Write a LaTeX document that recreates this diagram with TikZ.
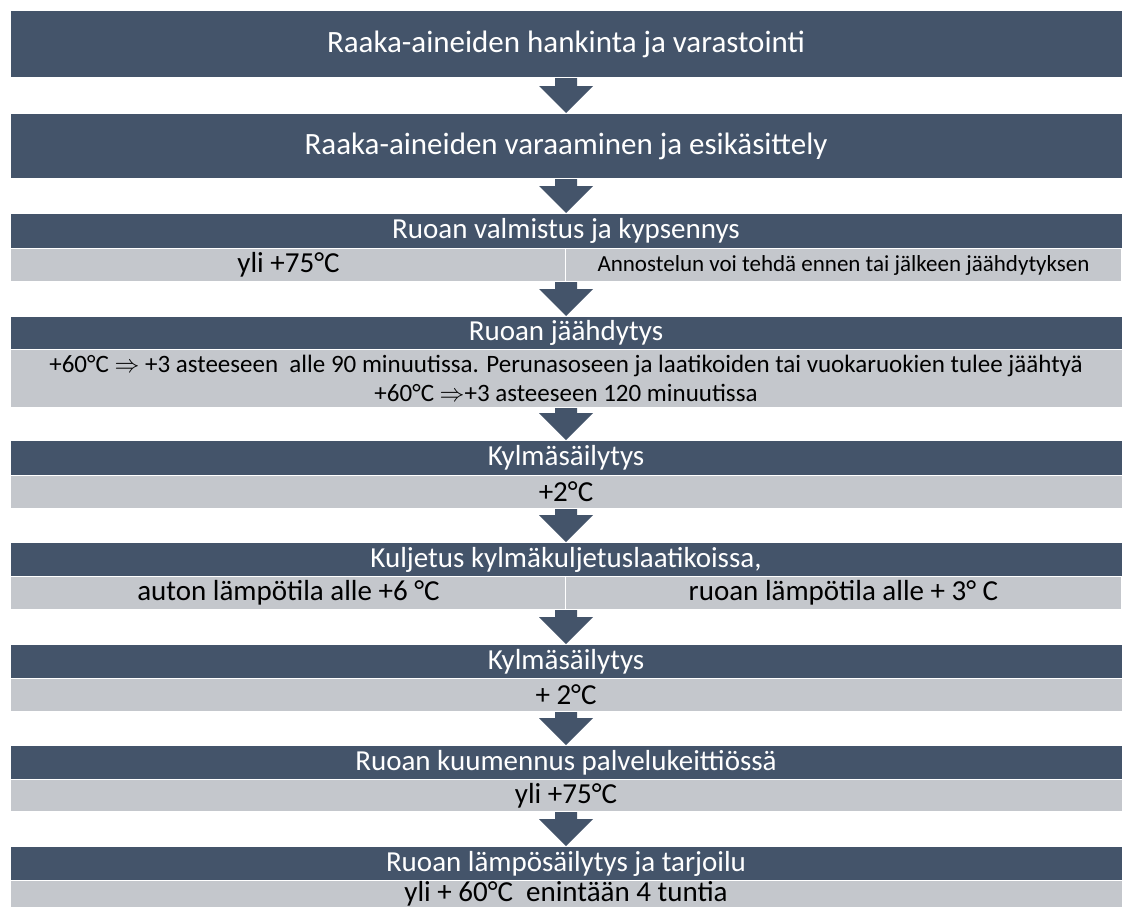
\documentclass[tikz,border=0pt]{standalone}
\usepackage{fontspec}
\setmainfont{Carlito}
\usetikzlibrary{calc}
\definecolor{barblue}{HTML}{44546A}
\definecolor{bargray}{HTML}{C4C7CC}

\begin{document}
\begin{tikzpicture}[x=1pt,y=-1pt,
	head/.style={fill=barblue,draw=white,line width=1pt,text=white,inner sep=0,anchor=north,minimum width=1112,font=\fontsize{29}{30}\selectfont},
	note/.style={fill=bargray,draw=white,line width=1pt,text=black,inner sep=0,anchor=north,minimum width=1112,font=\fontsize{29}{30}\selectfont},
	blockarrow/.style={fill=barblue,to path={(\tikztotarget) -- ++(27,-27) -- ++(-16,0) -- ([xshift=11pt]\tikztotarget |- \tikztostart) -- ([xshift=-11pt]\tikztotarget |- \tikztostart) -- ([xshift=-11pt,yshift=27pt]\tikztotarget) -- ++(-16,0) -- cycle}}]
	\useasboundingbox (0,0) rectangle (1122,908);
	\node at (566,10) [head,minimum height=67,font=\fontsize{31}{32}\selectfont] (b1) {Raaka-aineiden hankinta ja varastointi};
	\node at (566,113) [head,minimum height=65,font=\fontsize{31}{32}\selectfont] (b2) {Raaka-aineiden varaaminen ja esikäsittely};
	\node at (566,213) [head,minimum height=35] (b3) {Ruoan valmistus ja kypsennys};
	\node at (10,248) [note,anchor=north west,minimum width=556,minimum height=33] (b3l) {yli +75°C};
	\node at (1122,248) [note,anchor=north east,minimum width=556,minimum height=33,font=\fontsize{23}{24}\selectfont] (b3r) {Annostelun voi tehdä ennen tai jälkeen jäähdytyksen};
	\node at (566,316) [head,minimum height=33] (b4) {Ruoan jäähdytys};
	\node at (566,349) [note,minimum height=58,align=center,font=\fontsize{25}{29.5}\selectfont] (b4l) {+60°C $\Rightarrow$ +3 asteeseen\ \ alle 90 minuutissa. Perunasoseen ja laatikoiden tai vuokaruokien tulee jäähtyä\\+60°C $\Rightarrow${}+3 asteeseen 120 minuutissa};
	\node at (566,440) [head,minimum height=35] (b5) {Kylmäsäilytys};
	\node at (566,475) [note,minimum height=33] (b5l) {+2°C};
	\node at (566,542) [head,minimum height=34] (b6) {Kuljetus kylmäkuljetuslaatikoissa,};
	\node at (10,576) [note,anchor=north west,minimum width=556,minimum height=33] (b6l) {auton lämpötila alle +6 °C};
	\node at (1122,576) [note,anchor=north east,minimum width=556,minimum height=33] (b6r) {ruoan lämpötila alle + 3° C};
	\node at (566,644) [head,minimum height=34] (b7) {Kylmäsäilytys};
	\node at (566,678) [note,minimum height=33] (b7l) {+ 2°C};
	\node at (566,745) [head,minimum height=34] (b8) {Ruoan kuumennus palvelukeittiössä};
	\node at (566,779) [note,minimum height=32] (b8l) {yli +75°C};
	\node at (566,846) [head,minimum height=34] (b9) {Ruoan lämpösäilytys ja tarjoilu};
	\node at (566,880) [note,minimum height=27] (b9l) {yli + 60°C\ \ enintään 4 tuntia};
	\path [blockarrow] (b1.south) to (b2.north);
	\path [blockarrow] (b2.south) to (b3.north);
	\path [blockarrow] (b3l.south east) to (b4.north);
	\path [blockarrow] (b4l.south) to (b5.north);
	\path [blockarrow] (b5l.south) to (b6.north);
	\path [blockarrow] (b6l.south east) to (b7.north);
	\path [blockarrow] (b7l.south) to (b8.north);
	\path [blockarrow] (b8l.south) to (b9.north);
\end{tikzpicture}
\end{document}
